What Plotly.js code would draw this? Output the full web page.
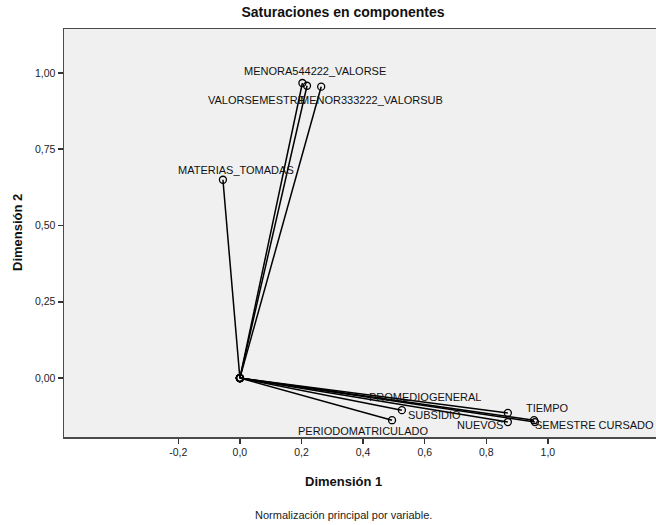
<!DOCTYPE html>
<html>
<head>
<meta charset="utf-8">
<script src="https://cdn.plot.ly/plotly-3.0.1.min.js"></script>
<style>html,body{margin:0;padding:0;background:#fff;}#chart{width:656px;height:525px;}</style>
</head>
<body>
<div id="chart"></div>
<script>
// Component loadings
const varNames = ["MENORA544222_VALORSE", "VALORSEMESTRE", "MENOR333222_VALORSUB", "MATERIAS_TOMADAS",
  "PROMEDIOGENERAL", "SUBSIDIO", "PERIODOMATRICULADO", "TIEMPO", "NUEVOS", "SEMESTRE CURSADO"];
const dim1 = [0.203, 0.218, 0.264, -0.055, 0.955, 0.526, 0.494, 0.870, 0.870, 0.958];
const dim2 = [0.967, 0.958, 0.955, 0.650, -0.138, -0.105, -0.138, -0.114, -0.144, -0.144];
const xTickVals = [-0.2, 0.0, 0.2, 0.4, 0.6, 0.8, 1.0];
const xTickText = ["-0,2", "0,0", "0,2", "0,4", "0,6", "0,8", "1,0"];
const yTickVals = [0.0, 0.25, 0.5, 0.75, 1.0];
const yTickText = ["0,00", "0,25", "0,50", "0,75", "1,00"];

// Label placement offsets in pixels (style, not data)
const labelDX = [13, -51, 50, 13, -109, 33, -29, 40, -28, 60];
const labelDY = [12, -14, -13, 10, 23, -5, -11, 5, -3, -3];

const traces = varNames.map((name, i) => ({
  type: "scatter",
  mode: "lines+markers",
  x: [0, dim1[i]],
  y: [0, dim2[i]],
  name: name,
  showlegend: false,
  hoverinfo: "text",
  text: ["", name],
  line: {color: "#000000", width: 1.5},
  marker: {symbol: "circle-open", size: 7, color: "#000000", line: {width: 1.3, color: "#000000"}},
  cliponaxis: false
}));

const annotations = varNames.map((name, i) => ({
  x: dim1[i], y: dim2[i], xref: "x", yref: "y",
  text: name, showarrow: false,
  xshift: labelDX[i], yshift: labelDY[i],
  xanchor: "center", yanchor: "middle",
  font: {family: "Liberation Sans, Arial, sans-serif", size: 11, color: "#111111"}
}));

annotations.push({
  text: "<b>Dimensión 1</b>", showarrow: false,
  xref: "paper", yref: "paper", x: (343 - 64) / 592, y: -(481 - 437) / 408,
  xanchor: "center", yanchor: "middle",
  font: {family: "Liberation Sans, Arial, sans-serif", size: 13, color: "#111111"}
});
annotations.push({
  text: "<b>Dimensión 2</b>", showarrow: false, textangle: -90,
  xref: "paper", yref: "paper", x: -(64 - 17) / 592, y: 0.5,
  xanchor: "center", yanchor: "middle",
  font: {family: "Liberation Sans, Arial, sans-serif", size: 13, color: "#111111"}
});
annotations.push({
  text: "Normalización principal por variable.", showarrow: false,
  xref: "paper", yref: "paper", x: (343 - 64) / 592, y: -(515 - 437) / 408,
  xanchor: "center", yanchor: "middle",
  font: {family: "Liberation Sans, Arial, sans-serif", size: 11, color: "#222222"}
});

const layout = {
  width: 656, height: 525,
  margin: {l: 64, r: 0, t: 29, b: 88, pad: 0},
  paper_bgcolor: "#ffffff",
  plot_bgcolor: "#f0f0f0",
  separators: ",.",
  title: {
    text: "<b>Saturaciones en componentes</b>",
    x: 343 / 656, xref: "container", xanchor: "center",
    y: 1 - 12 / 525, yref: "container", yanchor: "middle",
    font: {family: "Liberation Sans, Arial, sans-serif", size: 14, color: "#111111"}
  },
  xaxis: {
    range: [-0.571, 1.351],
    tickvals: xTickVals, ticktext: xTickText,
    ticks: "outside", ticklen: 5, tickwidth: 1.5, tickcolor: "#333333",
    showgrid: false, zeroline: false,
    showline: true, linecolor: "#4a4a4a", linewidth: 1.5, mirror: true,
    tickfont: {family: "Liberation Sans, Arial, sans-serif", size: 10.5, color: "#222222"},
    fixedrange: true
  },
  yaxis: {
    range: [-0.193, 1.144],
    tickvals: yTickVals, ticktext: yTickText,
    ticks: "outside", ticklen: 5, tickwidth: 1.5, tickcolor: "#333333",
    showgrid: false, zeroline: false,
    showline: true, linecolor: "#4a4a4a", linewidth: 1.5, mirror: false,
    tickfont: {family: "Liberation Sans, Arial, sans-serif", size: 10.5, color: "#222222"},
    fixedrange: true
  },
  annotations: annotations,
  showlegend: false
};

Plotly.newPlot("chart", traces, layout, {displayModeBar: false, staticPlot: true});
</script>
</body>
</html>
